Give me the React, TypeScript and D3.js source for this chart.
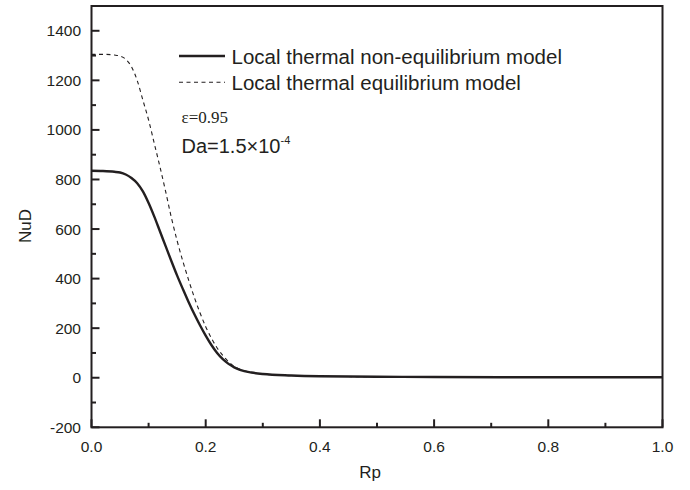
import React from "react";
import * as d3 from "d3";

const rpValues = [0, 0.02, 0.04, 0.05, 0.06, 0.07, 0.08, 0.09, 0.1, 0.11, 0.12, 0.13, 0.14, 0.15, 0.16, 0.17, 0.18, 0.19, 0.2, 0.21, 0.22, 0.23, 0.24, 0.25, 0.26, 0.28, 0.3, 0.35, 0.4, 0.5, 0.6, 0.8, 1.0];
const ltneValues = [835, 834, 831, 828, 820, 806, 785, 752, 705, 650, 590, 530, 470, 412, 358, 306, 257, 212, 170, 132, 100, 75, 56, 42, 32, 21, 15, 9, 6, 4, 3, 2, 2];
const lteValues = [1305, 1305, 1302, 1298, 1285, 1255, 1200, 1120, 1040, 945, 850, 750, 645, 552, 470, 395, 325, 262, 206, 160, 120, 90, 64, 46, 34, 21, 15, 9, 6, 4, 3, 2, 2];

const xTicks = [0, 0.2, 0.4, 0.6, 0.8, 1.0];
const xMinor = [0.1, 0.3, 0.5, 0.7, 0.9];
const yTicks = [-200, 0, 200, 400, 600, 800, 1000, 1200, 1400];
const yMinor = [-100, 100, 300, 500, 700, 900, 1100, 1300];
const legendLabels = ["Local thermal non-equilibrium model", "Local thermal equilibrium model"];

export default function App() {
  const W = 690, H = 490;
  const left = 91.5, right = 662.5, top = 6, bottom = 427.3;
  const x = d3.scaleLinear().domain([0, 1]).range([left, right]);
  const y = d3.scaleLinear().domain([-200, 1500]).range([bottom, top]);
  const ink = "#231f20";
  const line = d3.line<[number, number]>().x(d => x(d[0])).y(d => y(d[1])).curve(d3.curveMonotoneX);
  const solid = line(rpValues.map((r, i) => [r, ltneValues[i]] as [number, number]))!;
  const dashed = line(rpValues.map((r, i) => [r, lteValues[i]] as [number, number]))!;
  const font = "Liberation Sans, Arial, sans-serif";
  return (
    <svg width={W} height={H} style={{ position: "absolute", left: 0, top: 0, background: "#fff" }}>
      <path d={dashed} fill="none" stroke={ink} strokeWidth={1.1} strokeDasharray="4,3.5" />
      <path d={solid} fill="none" stroke={ink} strokeWidth={2.4} />
      <rect x={left} y={top} width={right - left} height={bottom - top} fill="none" stroke={ink} strokeWidth={2} />
      {xTicks.map(t => (
        <g key={"xt" + t}>
          <line x1={x(t)} x2={x(t)} y1={bottom} y2={bottom - 8} stroke={ink} strokeWidth={2} />
          <text x={x(t)} y={452} textAnchor="middle" fontFamily={font} fontSize={15.5} fill={ink}>{t.toFixed(1)}</text>
        </g>
      ))}
      {xMinor.map(t => (
        <line key={"xm" + t} x1={x(t)} x2={x(t)} y1={bottom} y2={bottom - 4.5} stroke={ink} strokeWidth={2} />
      ))}
      {yTicks.map(t => (
        <g key={"yt" + t}>
          <line x1={left} x2={left + 8} y1={y(t)} y2={y(t)} stroke={ink} strokeWidth={2} />
          <text x={81} y={y(t) + 5.5} textAnchor="end" fontFamily={font} fontSize={15.5} fill={ink}>{t}</text>
        </g>
      ))}
      {yMinor.map(t => (
        <line key={"ym" + t} x1={left} x2={left + 4.5} y1={y(t)} y2={y(t)} stroke={ink} strokeWidth={2} />
      ))}
      <text x={370} y={478} textAnchor="middle" fontFamily={font} fontSize={17} fill={ink}>Rp</text>
      <text transform="translate(31,226) rotate(-90)" textAnchor="middle" fontFamily={font} fontSize={17} fill={ink}>NuD</text>
      <line x1={179} x2={225} y1={56} y2={56} stroke={ink} strokeWidth={2.4} />
      <text x={231.5} y={64} fontFamily={font} fontSize={20.5} fill={ink}>{legendLabels[0]}</text>
      <line x1={179} x2={225} y1={82.3} y2={82.3} stroke={ink} strokeWidth={1.1} strokeDasharray="4,3.5" />
      <text x={231.5} y={90} fontFamily={font} fontSize={20.5} fill={ink}>{legendLabels[1]}</text>
      <text x={181.5} y={122.7} fontFamily="Liberation Serif, Times New Roman, serif" fontSize={17} fill={ink}>ε=0.95</text>
      <text x={181.5} y={153.3} fontFamily={font} fontSize={20} fill={ink}>Da=1.5×10<tspan dy={-9} fontSize={11}>-4</tspan></text>
    </svg>
  );
}
